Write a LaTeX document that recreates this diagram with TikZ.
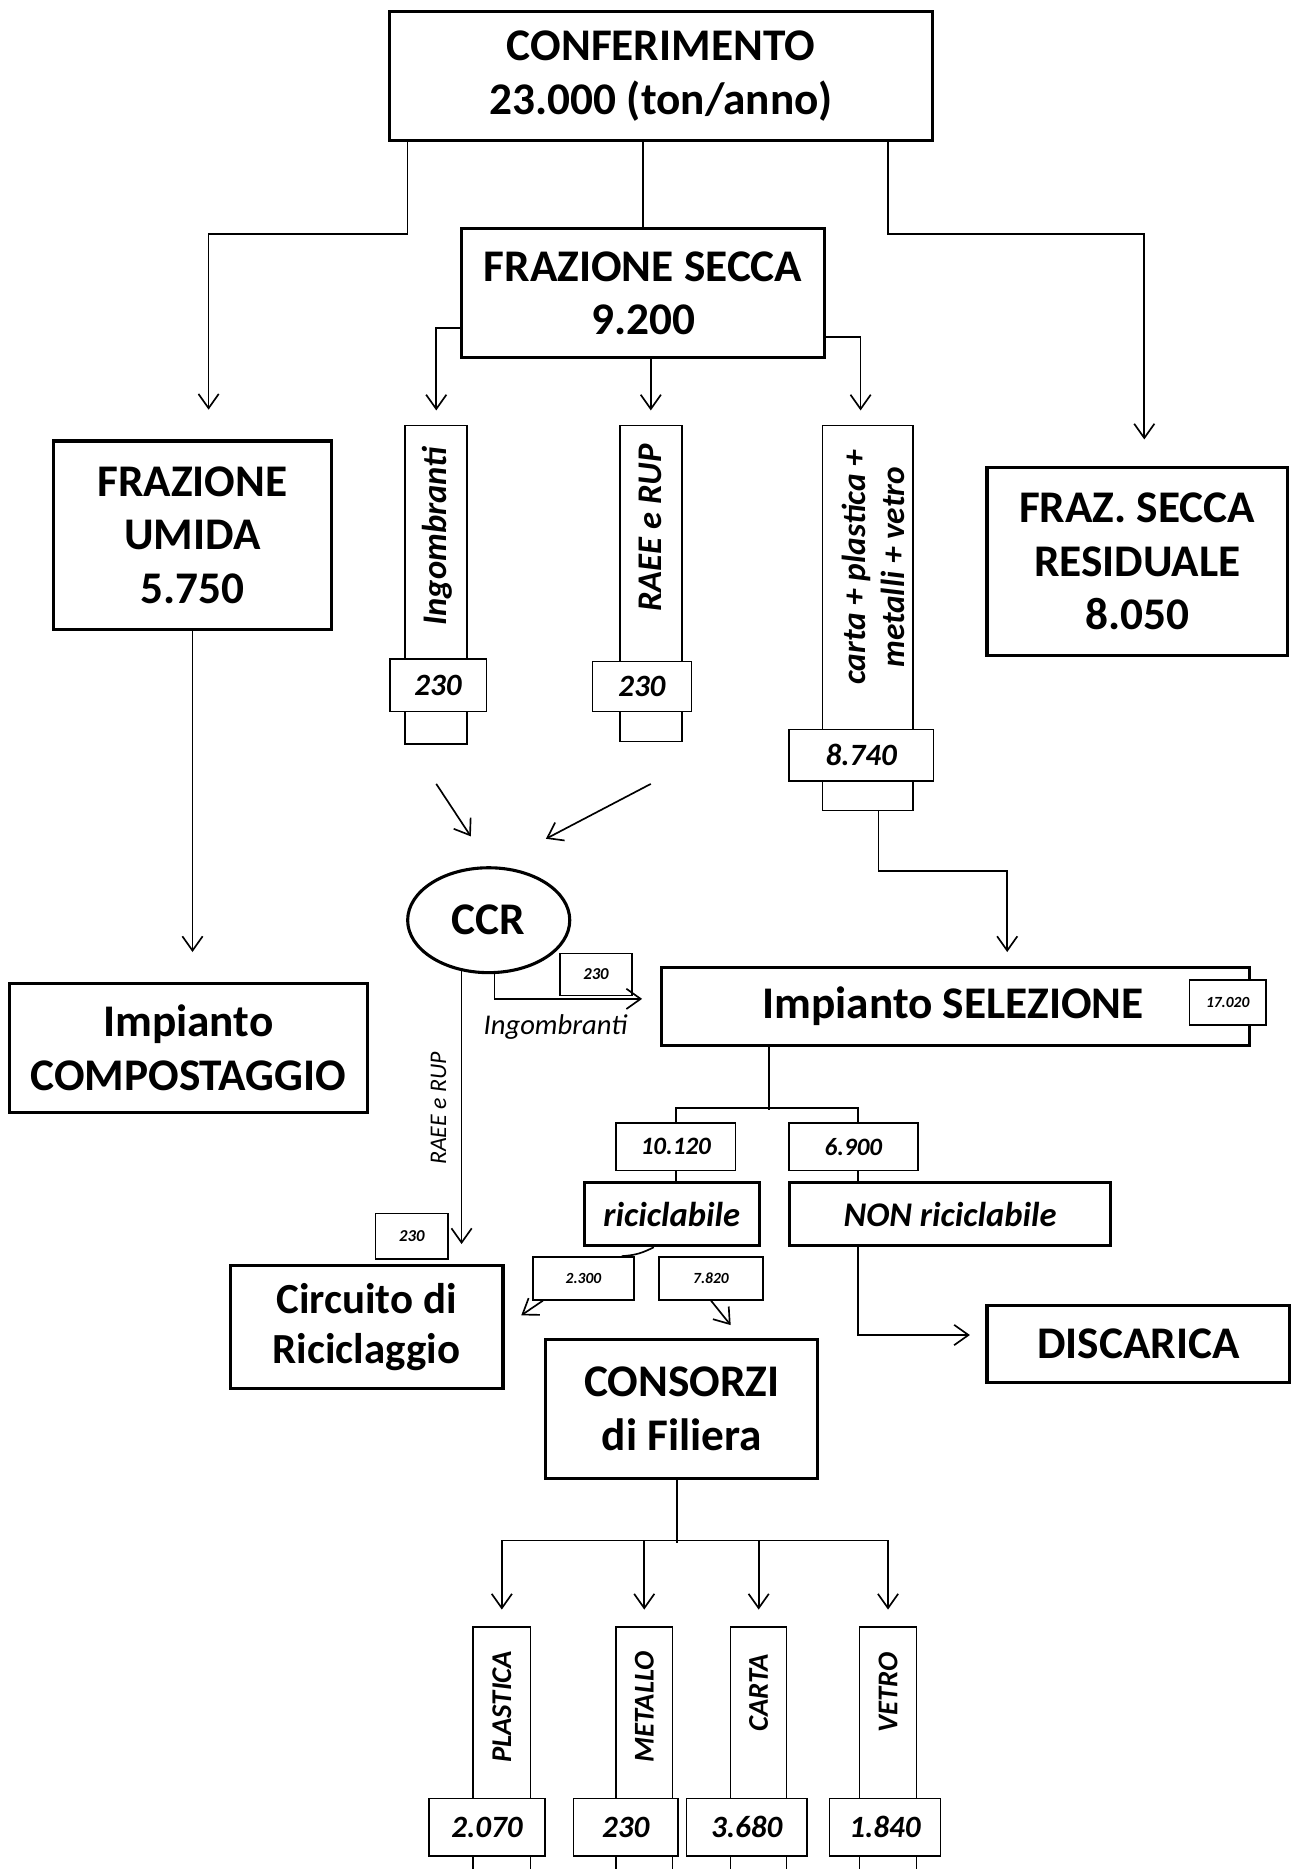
\documentclass[tikz,border=0pt]{standalone}
\usepackage{fontspec}
\setmainfont{Carlito}
\usetikzlibrary{arrows.meta,shapes.geometric}
\begin{document}
\begin{tikzpicture}[x=1pt,y=-1pt,
  bigbox/.style={draw,line width=2.6pt,rectangle,align=center,inner sep=0pt,
    font=\fontsize{38}{45}\selectfont\bfseries},
  midbox/.style={draw,line width=2.6pt,rectangle,align=center,inner sep=0pt,
    font=\fontsize{29}{34}\selectfont\bfseries\itshape},
  vbox/.style={draw,line width=1.3pt,rectangle,inner sep=0pt},
  numlab/.style={draw,line width=1.3pt,rectangle,fill=white,inner sep=0pt,
    font=\fontsize{26}{30}\selectfont\bfseries\itshape},
  midlab/.style={draw,line width=1.3pt,rectangle,fill=white,inner sep=0pt,
    font=\fontsize{21}{24}\selectfont\bfseries\itshape},
  smalllab/.style={draw,line width=1.3pt,rectangle,fill=white,inner sep=0pt,
    font=\fontsize{13}{15}\selectfont\bfseries\itshape},
  vtxt/.style={rotate=90,inner sep=0pt,align=center,
    font=\fontsize{29}{33}\selectfont\bfseries\itshape},
  vtxtlow/.style={rotate=90,inner sep=0pt,
    font=\fontsize{24}{28}\selectfont\bfseries\itshape},
  conn/.style={line width=1.4pt},
  arr/.style={conn,-{Straight Barb[length=12pt,width=17pt,line width=1.4pt]}}
]
\fill[white] (0,0) rectangle (1086,1568);
\useasboundingbox (0,0) rectangle (1086,1568);

% main boxes
\node[bigbox,minimum width=455pt,minimum height=108pt] (conf) at (554.5,64) {CONFERIMENTO\\23.000 (ton/anno)};
\node[bigbox,minimum width=305pt,minimum height=108pt] (secca) at (539.5,246) {FRAZIONE SECCA\\9.200};
\node[bigbox,minimum width=233pt,minimum height=158pt] (umida) at (161.5,449) {FRAZIONE\\UMIDA\\5.750};
\node[bigbox,minimum width=252pt,minimum height=158pt] (resid) at (954,471) {FRAZ. SECCA\\RESIDUALE\\8.050};
\node[bigbox,minimum width=300pt,minimum height=108pt] (compost) at (158,879) {Impianto\\COMPOSTAGGIO};
\node[bigbox,minimum width=493pt,minimum height=65pt] (selez) at (801.5,844.5) {\hspace*{-4pt}Impianto SELEZIONE};
\node[smalllab,minimum width=64pt,minimum height=38pt] (s17) at (1030,841) {17.020};
\node[bigbox,ellipse,minimum width=136pt,minimum height=88pt] (ccr) at (410,772) {CCR};
\node[bigbox,minimum width=229pt,minimum height=103pt,font=\fontsize{36}{42}\selectfont\bfseries] (circ) at (307.5,1113.5) {Circuito di\\Riciclaggio};
\node[bigbox,minimum width=228pt,minimum height=116pt] (cons) at (572,1182) {CONSORZI\\di Filiera};
\node[bigbox,minimum width=254pt,minimum height=65pt] (disc) at (955,1127.5) {DISCARICA};
\node[midbox,minimum width=147pt,minimum height=53pt] (ricic) at (563.5,1018.5) {riciclabile};
\node[midbox,minimum width=270pt,minimum height=53pt] (nonric) at (797,1018.5) {NON riciclabile};
\node[midlab,minimum width=100pt,minimum height=40pt] (n10120) at (567,962) {10.120};
\node[midlab,minimum width=108pt,minimum height=40pt] (n6900) at (716,962) {6.900};
\node[smalllab,minimum width=85pt,minimum height=36pt] (n2300) at (489.5,1072.5) {2.300};
\node[smalllab,minimum width=87pt,minimum height=36pt] (n7820) at (596.5,1072.5) {7.820};
\node[smalllab,minimum width=61pt,minimum height=38pt,font=\fontsize{14}{16}\selectfont\bfseries\itshape] (n230c) at (345.5,1037) {230};
\node[smalllab,minimum width=60pt,minimum height=35pt,font=\fontsize{14}{16}\selectfont\bfseries\itshape] (n230s) at (500,817.5) {230};

% upper vertical boxes
\node[vbox,minimum width=52pt,minimum height=267pt] (ingb) at (366,490.5) {};
\node[vbox,minimum width=52pt,minimum height=265pt] (raee) at (546,489.5) {};
\node[vbox,minimum width=76pt,minimum height=323pt] (carta) at (728,518.5) {};
\node[vtxt] (tingb) at (367,450) {Ingombranti};
\node[vtxt] (traee) at (546,443) {RAEE e RUP};
\node[vtxt,font=\fontsize{28}{33}\selectfont\bfseries\itshape] (tcarta) at (733,476) {carta + plastica +\\metalli + vetro};
\node[numlab,minimum width=81pt,minimum height=44pt] (ingl) at (367.5,575) {230};
\node[numlab,minimum width=83pt,minimum height=42pt] (raeel) at (538.5,576) {230};
\node[numlab,minimum width=121pt,minimum height=43pt] (cartal) at (722.5,633.5) {8.740};

% lower vertical boxes
\node[vbox,minimum width=48pt,minimum height=235pt] (plas) at (421,1482.5) {};
\node[vbox,minimum width=47pt,minimum height=235pt] (meta) at (540.5,1482.5) {};
\node[vbox,minimum width=47pt,minimum height=235pt] (cart) at (636.5,1482.5) {};
\node[vbox,minimum width=48pt,minimum height=235pt] (vetr) at (745,1482.5) {};
\node[vtxtlow] (tplas) at (421,1432) {PLASTICA};
\node[vtxtlow] (tmeta) at (540.5,1432) {METALLO};
\node[vtxtlow] (tcart) at (636.5,1420) {CARTA};
\node[vtxtlow] (tvetr) at (745,1420) {VETRO};
\node[numlab,minimum width=97pt,minimum height=48pt] (l2070) at (408.5,1533) {2.070};
\node[numlab,minimum width=88pt,minimum height=48pt] (l230m) at (525,1533) {230};
\node[numlab,minimum width=101pt,minimum height=48pt] (l3680) at (626.5,1533) {3.680};
\node[numlab,minimum width=93pt,minimum height=48pt] (l1840) at (742.5,1533) {1.840};

% free texts
\node[inner sep=0pt,font=\fontsize{24}{28}\selectfont\itshape] (tIngomb) at (466,862) {Ingombranti};
\node[inner sep=0pt,rotate=90,font=\fontsize{20}{24}\selectfont\itshape] (tRaee) at (368,930) {RAEE e RUP};

% helper coordinates
\coordinate (compIn) at ([yshift=25pt]compost.north);
\coordinate (circIn) at ([yshift=17pt]circ.north);
\coordinate (ccrInA) at ([shift={(-15pt,25pt)}]ccr.north);
\coordinate (ccrInB) at ([shift={(48pt,23pt)}]ccr.north);

% connectors from CONFERIMENTO
\draw[arr] ([xshift=-212.5pt]conf.south) -- ++(0,77) -| ([xshift=13.5pt,yshift=25pt]umida.north);
\draw[conn] (conf.south -| secca.north) -- (secca.north);
\draw[arr] ([xshift=190.5pt]conf.south) -- ++(0,77) -| ([xshift=6pt,yshift=22pt]resid.north);

% from FRAZIONE SECCA
\draw[arr] ([yshift=-29pt]secca.west) -| ([yshift=12pt]ingb.north);
\draw[arr] (secca.south -| raee.north) -- ([yshift=12pt]raee.north);
\draw[arr] ([yshift=-37pt]secca.east) -| ([xshift=-6pt,yshift=12pt]carta.north);

% to CCR
\draw[arr] ([yshift=-33pt]ingb.south) -- (ccrInA);
\draw[arr] ([yshift=-35pt]raee.south) -- (ccrInB);

% carta to selezione
\draw[arr] ([xshift=9pt]carta.south) -- ++(0,50) -| ([xshift=43.5pt,yshift=12pt]selez.north);

% umida to compostaggio
\draw[arr] (umida.south) -- (umida.south |- compIn);

% CCR outputs
\draw[arr] (ccr.276) |- ([xshift=-15pt,yshift=6.5pt]selez.west);
\draw[arr] (ccr.242) -- (ccr.242 |- circIn);

% selezione split
\draw[conn] ([xshift=-156.5pt]selez.south) -- ++(0,53);
\draw[conn] (n10120.north) -- ++(0,-12) -| ([xshift=4pt]n6900.north);
\draw[conn] (n10120.south) -- (n10120.south |- ricic.north);
\draw[conn] ([xshift=4pt]n6900.south) -- ([xshift=4pt]n6900.south |- nonric.north);

% riciclabile outputs
\draw[conn] ([xshift=-15pt]ricic.south) to[bend left=12] ([xshift=32pt]n2300.north);
\draw[arr] ([xshift=-34pt]n2300.south) -- ([xshift=14pt,yshift=10pt]circ.east);
\draw[arr] (n7820.south) -- ([xshift=41pt,yshift=11pt]cons.north);

% non riciclabile to discarica
\draw[arr] ([xshift=-77pt]nonric.south) |- ([xshift=-13pt,yshift=7.5pt]disc.west);

% consorzi split
\draw[conn] ([xshift=-4pt]cons.south) -- ++(0,53);
\draw[conn] ([yshift=72pt]plas.north) -- ([yshift=72pt]vetr.north);
\foreach \n in {plas,meta,cart,vetr}
  \draw[arr] ([yshift=72pt]\n.north) -- ([yshift=14pt]\n.north);
\end{tikzpicture}
\end{document}
